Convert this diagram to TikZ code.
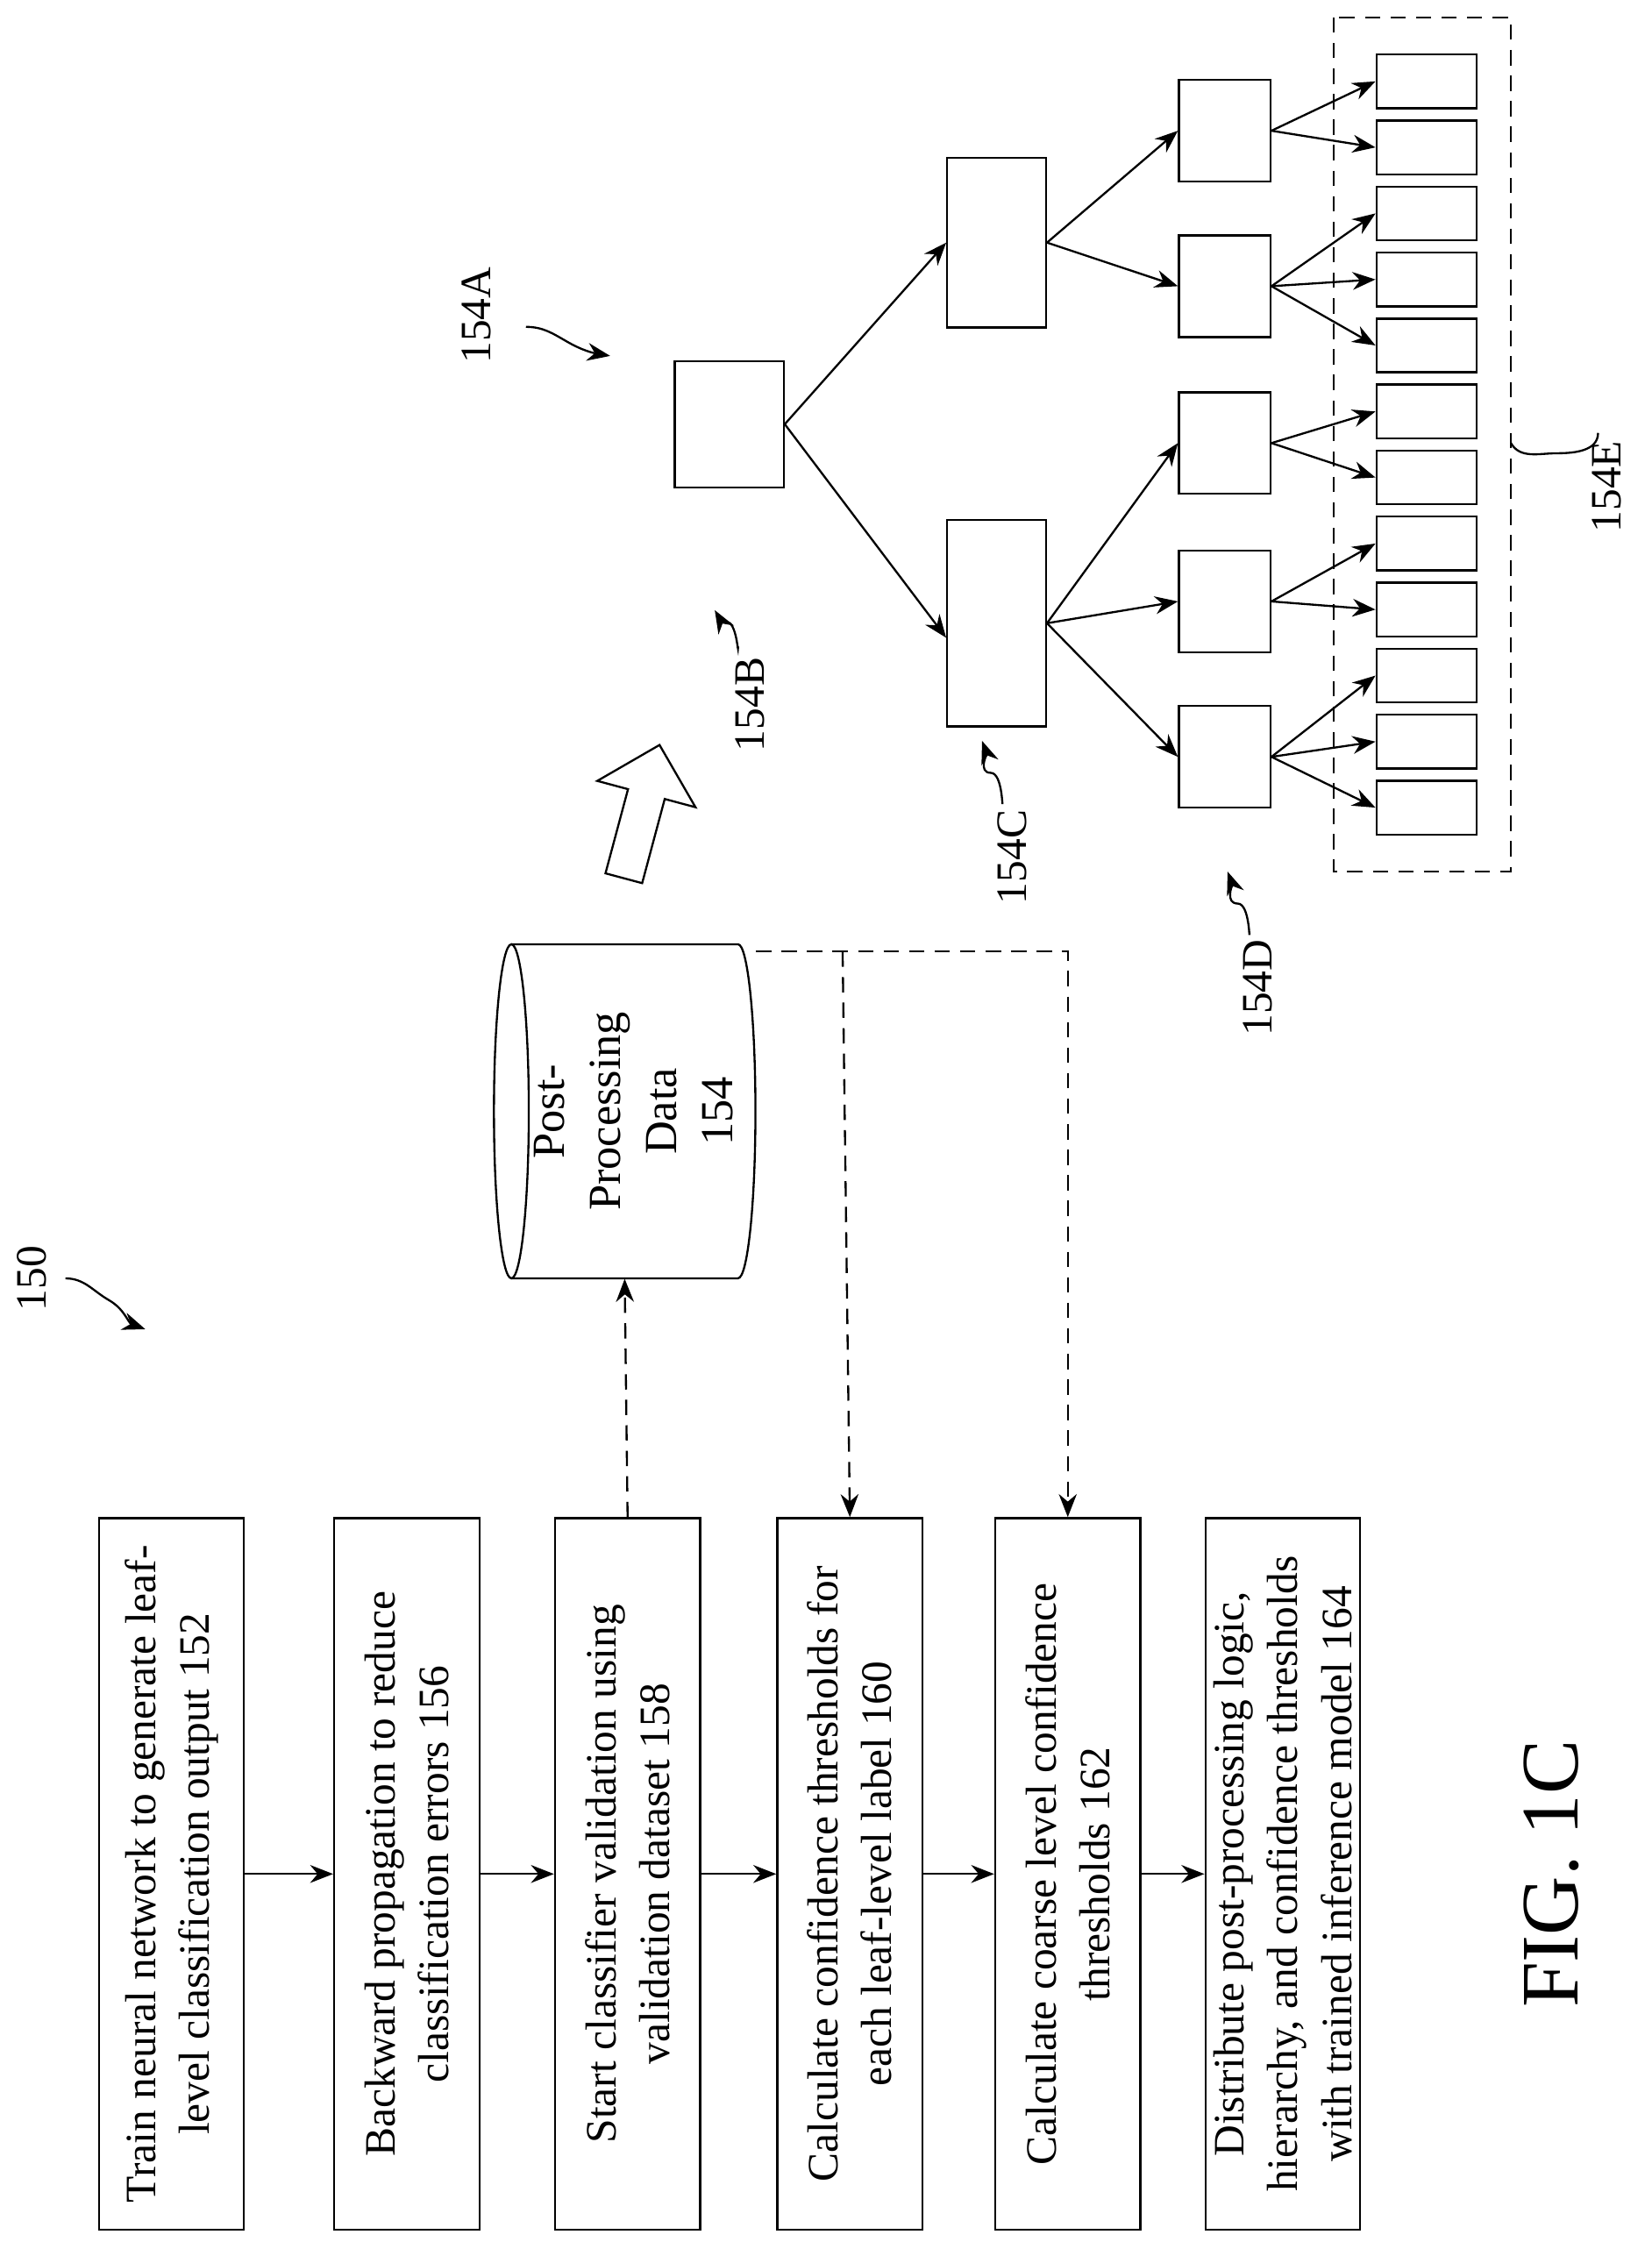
\documentclass[tikz,border=0pt]{standalone}
\usepackage{fontspec}
\setmainfont{Liberation Serif}
\usetikzlibrary{arrows.meta,shapes.geometric,shapes.arrows,positioning}
\begin{document}
\begin{tikzpicture}[x=0.02cm, y=-0.02cm, >={Stealth[length=9pt,width=7pt]}]
        % styles
        \tikzset{flowstep/.style={rectangle, rotate=90, draw=black, thick, minimum width=9.8cm, minimum height=2cm, align=center, font=\fontsize{17}{21}\selectfont},
                 tbox/.style={rectangle, draw=black, thick, inner sep=0pt},
                 leaf/.style={tbox, minimum width=1.38cm, minimum height=0.74cm},
                 mid/.style={tbox, minimum width=1.26cm, minimum height=1.4cm},
                 ref/.style={rotate=90, font=\fontsize{17}{20}\selectfont},
                 arrow/.style={thick,->},
                 dasharrow/.style={thick,->,dash pattern=on 6pt off 4pt}}
        \useasboundingbox (0,0) rectangle (1137,1553);

        % flow boxes
        \node (b1) [flowstep] at (118,1290) {Train neural network to generate leaf-\\level classification output 152};
        \node (b2) [flowstep] at (280,1290) {Backward propagation to reduce\\classification errors 156};
        \node (b3) [flowstep] at (432,1290) {Start classifier validation using\\validation dataset 158};
        \node (b4) [flowstep] at (585,1290) {Calculate confidence thresholds for\\each leaf-level label 160};
        \node (b5) [flowstep] at (735,1290) {Calculate coarse level confidence\\thresholds 162};
        \node (b6) [flowstep] at (883,1290) {Distribute post-processing logic,\\hierarchy, and confidence thresholds\\with trained inference model 164};
        \foreach \a/\b in {b1/b2,b2/b3,b3/b4,b4/b5,b5/b6}
            \draw [arrow] (\a.south) -- (\b.north);

        % database
        \node (db) [minimum width=3.6cm, minimum height=4.6cm] at (430,765) {};
        \draw [thick] (352,765) ellipse [x radius=0.24cm, y radius=2.3cm];
        \draw [thick] (352,650) -- (508,650) arc [start angle=90, end angle=-90, x radius=0.24cm, y radius=2.3cm] -- (352,880);
        \node [rotate=90, align=center, font=\fontsize{18}{22}\selectfont] at (436,765) {Post-\\Processing\\Data\\154};
        \draw [dasharrow] (b3.east) -- (db.south);
        \draw [dasharrow] (db.north east) ++(0,5) -| (b5.east);
        \draw [dasharrow] (580,655) -- (b4.east);

        % hollow arrow
        \node (big) [single arrow, draw=black, thick, rotate=75, minimum height=1.9cm, minimum width=1.4cm, single arrow head extend=0.22cm] at (440,565) {};

        % tree
        \node (root) [tbox, minimum width=1.5cm, minimum height=1.74cm] at (502,292) {};
        \node (na) [tbox, minimum width=1.36cm, minimum height=2.34cm] at (686,167) {};
        \node (nc) [tbox, minimum width=1.36cm, minimum height=2.84cm] at (686,429) {};
        \foreach \i/\y in {1/90,2/197,3/305,4/414,5/521}
            \node (m\i) [mid] at (843,\y) {};
        \foreach \i in {1,...,12}
            \node (l\i) [leaf] at (982,{56+45.45*(\i-1)}) {};
        \draw [thick, dash pattern=on 6pt off 4pt] (918,12) rectangle (1040,600);

        \draw [arrow] (root.east) -- (na.west);
        \draw [arrow] (root.east) -- ([yshift=-0.2cm]nc.west);
        \foreach \m in {1,2} \draw [arrow] (na.east) -- (m\m.west);
        \foreach \m in {3,4,5} \draw [arrow] (nc.east) -- (m\m.west);
        \foreach \m/\l in {1/1,1/2,2/3,2/4,2/5,3/6,3/7,4/8,4/9,5/10,5/11,5/12}
            \draw [arrow] (m\m.east) -- (l\l.west);

        % reference labels
        \node (r150) [ref] at (22,880) {150};
        \coordinate (t150) at (100,915);
        \draw [arrow] (45,880) to[out=0, in=150] (75,895) to[out=-30, in=160] (t150);
        \node (r154a) [ref] at (328,217) {154A};
        \coordinate (t154a) at (420,245);
        \draw [arrow] (362,225) to[out=0, in=150] (390,235) to[out=-30, in=170] (t154a);
        \node (r154b) [ref] at (516,485) {154B};
        \coordinate (t154b) at (492,420);
        \draw [arrow] (508,445) to[out=-90, in=0] (500,428) to[out=180, in=-60] (t154b);
        \node (r154c) [ref] at (697,590) {154C};
        \coordinate (t154c) at (676,510);
        \draw [arrow] (690,552) to[out=-90, in=0] (682,532) to[out=180, in=-70] (t154c);
        \node (r154d) [ref] at (866,680) {154D};
        \coordinate (t154d) at (845,600);
        \draw [arrow] (860,642) to[out=-90, in=0] (852,622) to[out=180, in=-70] (t154d);
        \node (r154e) [ref] at (1106,335) {154E};
        \coordinate (t154e) at (1040,305);
        \draw [thick] (1100,298) to[out=-90, in=0] (1072,312) to[out=180, in=-60] (t154e);

        \node (fig) [rotate=90, font=\fontsize{32}{36}\selectfont] at (1068,1290) {FIG. 1C};
\end{tikzpicture}
\end{document}
